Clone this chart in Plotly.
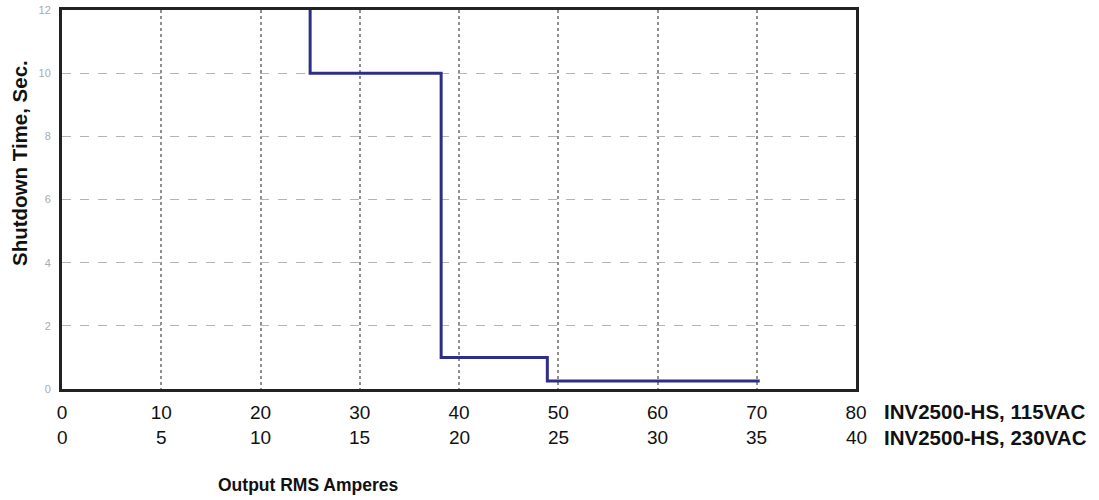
import plotly.graph_objects as go

# Step curve: output RMS amperes (115VAC scale) vs shutdown time (s)
amps_115 = [25, 25, 38.2, 38.2, 48.9, 48.9, 70.3]
shutdown_s = [12, 10, 10, 1, 1, 0.25, 0.25]

x_ticks_115 = [0, 10, 20, 30, 40, 50, 60, 70, 80]
x_ticks_230 = [0, 5, 10, 15, 20, 25, 30, 35, 40]
y_ticks = [0, 2, 4, 6, 8, 10, 12]

row_labels = ["INV2500-HS, 115VAC", "INV2500-HS, 230VAC"]

font = "Arial, Liberation Sans, sans-serif"

W, H = 1099, 500
L, R, T, B = 62, 1099 - 856, 10, 500 - 389
pw, ph = W - L - R, H - T - B


def px_to_paper(xpx, ypx):
    return (xpx - L) / pw, (H - B - ypx) / ph


fig = go.Figure()
fig.add_trace(go.Scatter(
    x=amps_115, y=shutdown_s, mode="lines",
    line=dict(color="#2e2e86", width=3),
    showlegend=False, hoverinfo="skip"))

annotations = []
# second row of x tick labels (230VAC scale)
for xv, lab in zip(x_ticks_115, x_ticks_230):
    annotations.append(dict(
        x=xv, y=0, xref="x", yref="paper", text=str(lab), showarrow=False,
        yanchor="middle", xanchor="center", yshift=-48,
        font=dict(size=19, color="#111111", family=font)))
# row labels
for i, t in enumerate(row_labels):
    annotations.append(dict(
        x=1, y=0, xref="paper", yref="paper", text="<b>" + t + "</b>",
        showarrow=False, xanchor="left", yanchor="middle",
        xshift=26, yshift=-22 - 26 * i,
        font=dict(size=20.5, color="#111111", family=font)))
# axis titles
tx, ty = px_to_paper(308, 485)
annotations.append(dict(
    x=tx, y=ty, xref="paper", yref="paper", text="<b>Output RMS Amperes</b>",
    showarrow=False, xanchor="center", yanchor="middle",
    font=dict(size=17.5, color="#111111", family=font)))
tx, ty = px_to_paper(19, 163)
annotations.append(dict(
    x=tx, y=ty, xref="paper", yref="paper", text="<b>Shutdown Time, Sec.</b>",
    showarrow=False, textangle=-90, xanchor="center", yanchor="middle",
    font=dict(size=20.5, color="#111111", family=font)))

fig.update_layout(
    width=W, height=H,
    margin=dict(l=L, r=R, t=T, b=B, autoexpand=False),
    paper_bgcolor="white", plot_bgcolor="white",
    annotations=annotations,
    xaxis=dict(
        range=[0, 80], tickvals=x_ticks_115, ticktext=[str(v) for v in x_ticks_115],
        showgrid=True, gridcolor="#8f8f8f", griddash="dot", gridwidth=1.5,
        showline=True, linecolor="#222222", linewidth=3, mirror=True,
        ticks="", zeroline=False, ticklabelstandoff=4,
        tickfont=dict(size=19, color="#111111", family=font)),
    yaxis=dict(
        range=[0, 12], tickvals=y_ticks,
        showgrid=True, gridcolor="#b4b4b4", griddash="dash", gridwidth=1,
        showline=True, linecolor="#222222", linewidth=3, mirror=True,
        ticks="", zeroline=False, ticklabelstandoff=6,
        tickfont=dict(size=11, color="#aaaaaa", family=font)),
)

# remove the browser's default 8px body margin so the figure sits at (0, 0)
fig.write_html(
    "out.html",
    config={"displayModeBar": False},
    post_script="document.body.style.margin='0';document.body.style.overflow='hidden';",
)
